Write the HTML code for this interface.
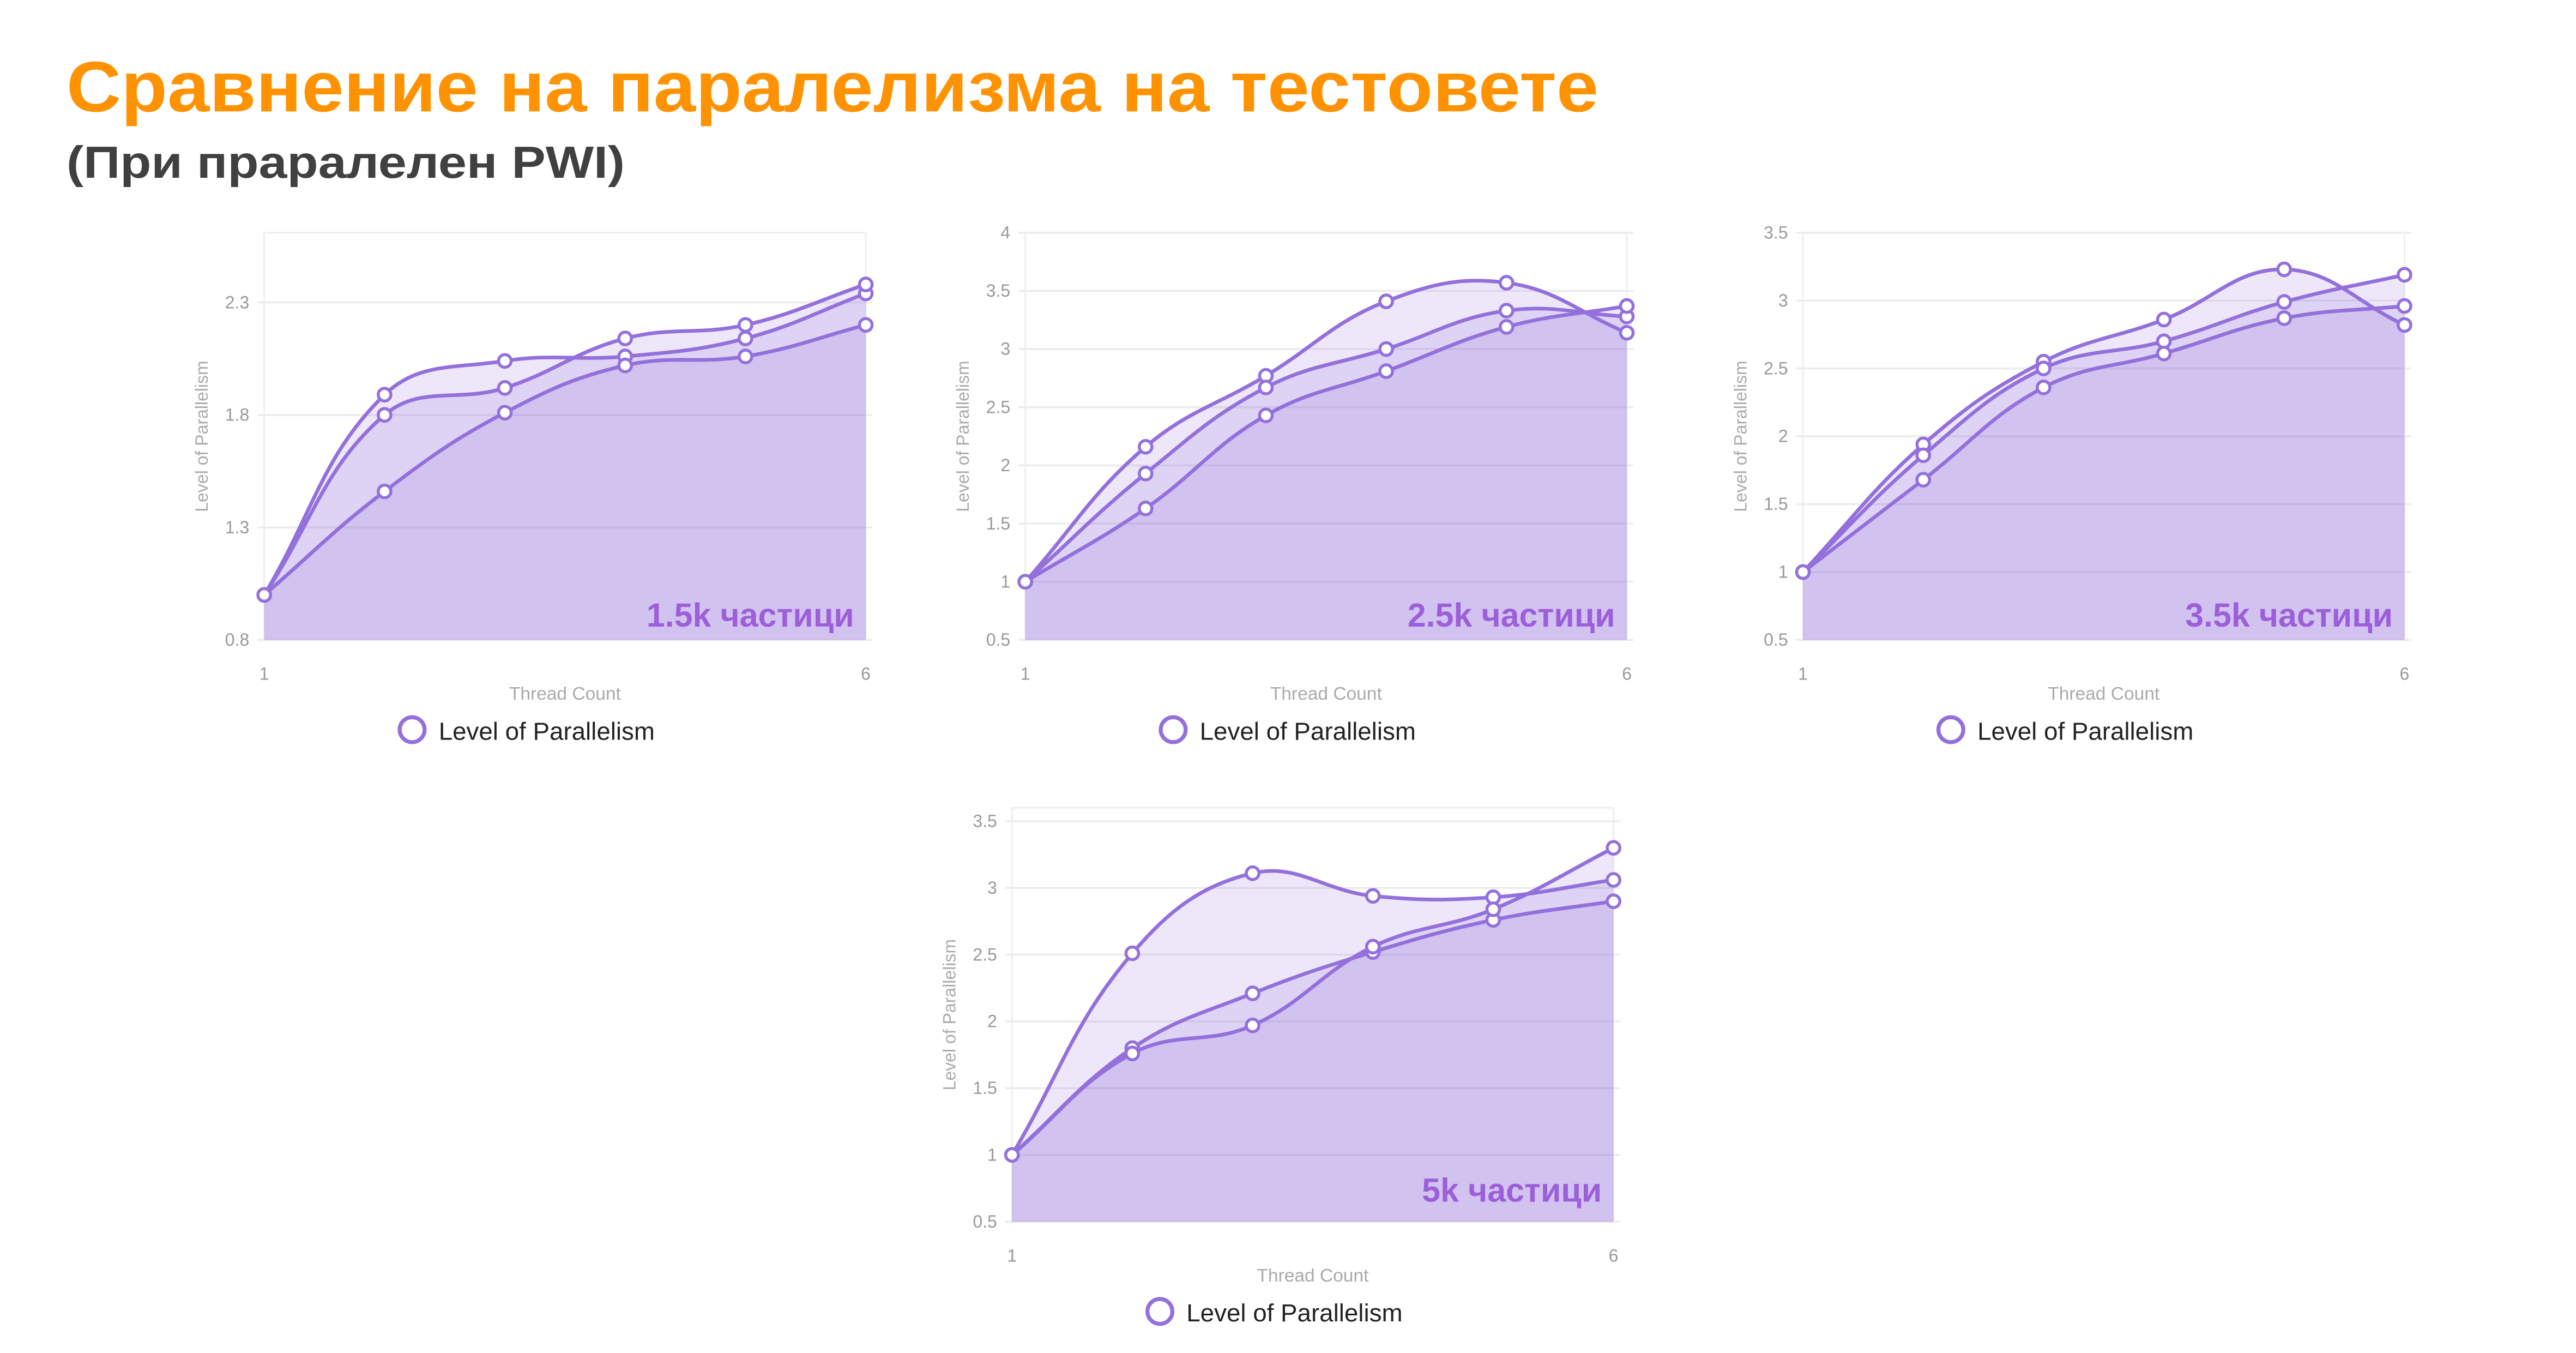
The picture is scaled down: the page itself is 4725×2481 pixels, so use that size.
<!DOCTYPE html>
<html><head><meta charset="utf-8"><style>
html,body{margin:0;padding:0;background:#fff;}
svg{display:block;}
</style></head><body>
<svg id="root" width="4725" height="2481" viewBox="0 0 1550.2 814" xmlns="http://www.w3.org/2000/svg">
<text x="40" y="67" font-family="Liberation Sans, sans-serif" font-weight="bold" font-size="43" fill="#FF9200" textLength="922" lengthAdjust="spacingAndGlyphs">Сравнение на паралелизма на тестовете</text>
<text x="40" y="107" font-family="Liberation Sans, sans-serif" font-weight="bold" font-size="27" fill="#404040" textLength="336" lengthAdjust="spacingAndGlyphs">(При праралелен PWI)</text>
<g id="charts"></g>
</svg>
<script>
// Chart 1 – 1.5k
const c1Ticks = [0.8, 1.3, 1.8, 2.3];
const c1A = [1, 1.89, 2.04, 2.06, 2.14, 2.34];
const c1B = [1, 1.80, 1.92, 2.14, 2.20, 2.38];
const c1C = [1, 1.46, 1.81, 2.02, 2.06, 2.20];
// Chart 2 – 2.5k
const c2Ticks = [0.5, 1, 1.5, 2, 2.5, 3, 3.5, 4];
const c2A = [1, 2.16, 2.77, 3.41, 3.57, 3.14];
const c2B = [1, 1.93, 2.67, 3.00, 3.33, 3.28];
const c2C = [1, 1.63, 2.43, 2.81, 3.19, 3.37];
// Chart 3 – 3.5k
const c3Ticks = [0.5, 1, 1.5, 2, 2.5, 3, 3.5];
const c3A = [1, 1.94, 2.55, 2.86, 3.23, 2.82];
const c3B = [1, 1.86, 2.50, 2.70, 2.99, 3.19];
const c3C = [1, 1.68, 2.36, 2.61, 2.87, 2.96];
// Chart 4 – 5k
const c4Ticks = [0.5, 1, 1.5, 2, 2.5, 3, 3.5];
const c4A = [1, 2.51, 3.11, 2.94, 2.93, 3.06];
const c4B = [1, 1.80, 2.21, 2.52, 2.76, 2.90];
const c4C = [1, 1.76, 1.97, 2.56, 2.84, 3.30];
const categories = [1, 2, 3, 4, 5, 6];
const xTickLabels = ['1', '6'];

const NS = 'http://www.w3.org/2000/svg';
const root = document.getElementById('charts');
function mk(tag, attrs, parent){const e=document.createElementNS(NS,tag);for(const k in attrs)e.setAttribute(k,attrs[k]);(parent||root).appendChild(e);return e;}

function spline(pts){
  let d='M'+pts[0][0]+','+pts[0][1];
  const t=0.4;
  const cps=pts.map((p,i)=>{
    const prev=pts[i-1]||p, next=pts[i+1]||p;
    const d01=Math.hypot(p[0]-prev[0],p[1]-prev[1]), d12=Math.hypot(next[0]-p[0],next[1]-p[1]);
    let s01=d01/(d01+d12||1), s12=d12/(d01+d12||1);
    const fa=t*s01, fb=t*s12;
    return {p:[p[0]-fa*(next[0]-prev[0]),p[1]-fa*(next[1]-prev[1])], n:[p[0]+fb*(next[0]-prev[0]),p[1]+fb*(next[1]-prev[1])]};
  });
  for(let i=1;i<pts.length;i++){
    d+=' C'+cps[i-1].n[0]+','+cps[i-1].n[1]+' '+cps[i].p[0]+','+cps[i].p[1]+' '+pts[i][0]+','+pts[i][1];
  }
  return d;
}

function chart(name, L, R, T, B, ymin, ymax, ticks, series, label, labelBaseOff){
  const g=mk('g',{});
  
  
  const xs=v=>L+(v-1)/(categories.length-1)*(R-L);
  const ys=v=>B-(v-ymin)/(ymax-ymin)*(B-T);
  const fr=mk('rect',{x:L,y:T,width:R-L,height:B-T,fill:'none',stroke:'#efefef','stroke-width':1},g);
  
  
  ticks.forEach(tv=>{
    const y=ys(tv);
    const ln=mk('line',{x1:L-4,x2:R+4,y1:y,y2:y,stroke:'#ececec','stroke-width':1.2},g);
    
    
    const tx=mk('text',{x:L-9,y:y+3.5,'text-anchor':'end','font-family':'Liberation Sans, sans-serif','font-size':10.5,fill:'#999'},g);
    
    
    tx.textContent=String(tv);
  });
  series.forEach(s=>{
    const pts=s.map((v,i)=>[xs(categories[i]),ys(v)]);
    const f=mk('path',{d:spline(pts)+' L'+R+','+B+' L'+L+','+B+' Z',fill:'rgba(150,110,220,0.17)'},g);
    
    
  });
  series.forEach(s=>{
    const pts=s.map((v,i)=>[xs(categories[i]),ys(v)]);
    const p=mk('path',{d:spline(pts),fill:'none',stroke:'#9370DB','stroke-width':2.2},g);
    
    
  });
  series.forEach(s=>{
    s.forEach((v,i)=>{
      const c=mk('circle',{cx:xs(categories[i]),cy:ys(v),r:3.8,fill:'#fff',stroke:'#9370DB','stroke-width':1.8},g);
      
      
    });
  });
  [[1,xTickLabels[0]],[6,xTickLabels[1]]].forEach(([v,t])=>{
    const tx=mk('text',{x:xs(v),y:B+24,'text-anchor':'middle','font-family':'Liberation Sans, sans-serif','font-size':10.5,fill:'#999'},g);
    
    
    tx.textContent=t;
  });
  const cx=(L+R)/2;
  const xt=mk('text',{x:cx,y:B+36,'text-anchor':'middle','font-family':'Liberation Sans, sans-serif','font-size':11,fill:'#aaa'},g);
  
  
  xt.textContent='Thread Count';
  const yt=mk('text',{x:0,y:0,'text-anchor':'middle','font-family':'Liberation Sans, sans-serif','font-size':10.5,fill:'#aaa',transform:'translate('+(L-34)+','+((T+B)/2)+') rotate(-90)'},g);
  
  
  yt.textContent='Level of Parallelism';
  const lc=mk('circle',{cx:cx-92,cy:B+54,r:7.5,fill:'none',stroke:'#9370DB','stroke-width':2.4},g);
  
  
  const lt=mk('text',{x:cx-76,y:B+60,'font-family':'Liberation Sans, sans-serif','font-size':15,fill:'#222'},g);
  
  
  lt.textContent='Level of Parallelism';
  const lb=mk('text',{x:R-7,y:B-labelBaseOff,'text-anchor':'end','font-family':'Liberation Sans, sans-serif','font-weight':'bold','font-size':20,fill:'#9C5FD9'},g);
  
  
  lb.textContent=label;
}
chart('chart-1-5k',159,521,140,385,0.8,2.61,c1Ticks,[c1A,c1B,c1C],'1.5k частици',8);
chart('chart-2-5k',617,979,140,385,0.5,4,c2Ticks,[c2A,c2B,c2C],'2.5k частици',8);
chart('chart-3-5k',1085,1447,140,385,0.5,3.5,c3Ticks,[c3A,c3B,c3C],'3.5k частици',8);
chart('chart-5k',609,971,486,735,0.5,3.6,c4Ticks,[c4A,c4B,c4C],'5k частици',12);
</script>
</body></html>
